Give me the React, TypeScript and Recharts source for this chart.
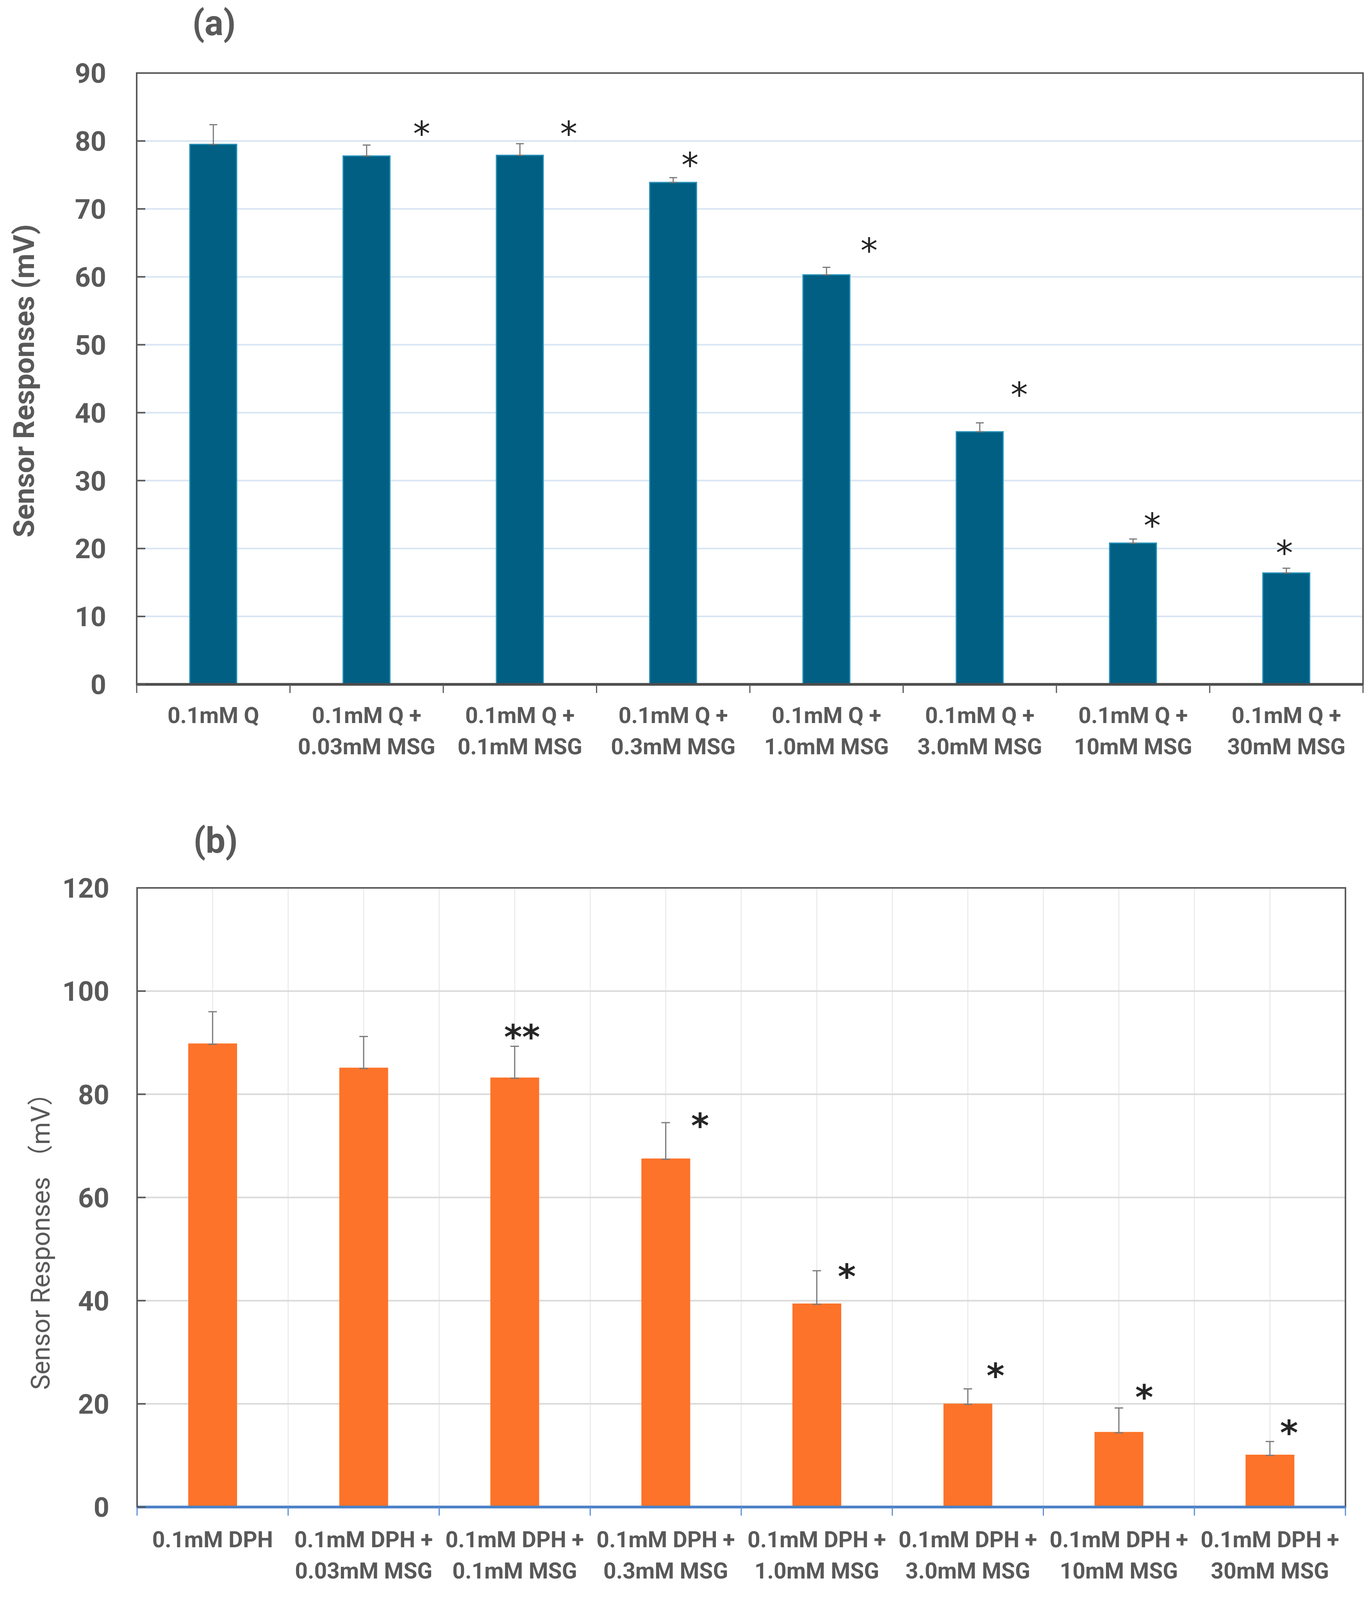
import React from "react";
import {
  Bar,
  CartesianGrid,
  ComposedChart,
  ErrorBar,
  Label,
  ReferenceArea,
  Scatter,
  XAxis,
  YAxis,
} from "recharts";

// panel (a): quinine + MSG
const categoriesA = [
  "0.1mM Q",
  "0.1mM Q +\n0.03mM MSG",
  "0.1mM Q +\n0.1mM MSG",
  "0.1mM Q +\n0.3mM MSG",
  "0.1mM Q +\n1.0mM MSG",
  "0.1mM Q +\n3.0mM MSG",
  "0.1mM Q +\n10mM MSG",
  "0.1mM Q +\n30mM MSG",
];
const valuesA = [79.5, 77.8, 77.9, 73.9, 60.3, 37.2, 20.8, 16.4];
const errorsA = [2.9, 1.6, 1.7, 0.7, 1.1, 1.3, 0.6, 0.7];
const starsA = ["", "*", "*", "*", "*", "*", "*", "*"];
const starLevelA = [null, 82.2, 82.2, 77.6, 65.0, 43.8, 24.5, 20.5];
const ticksA = [0, 10, 20, 30, 40, 50, 60, 70, 80, 90];

// panel (b): DPH + MSG
const categoriesB = [
  "0.1mM DPH",
  "0.1mM DPH +\n0.03mM MSG",
  "0.1mM DPH +\n0.1mM MSG",
  "0.1mM DPH +\n0.3mM MSG",
  "0.1mM DPH +\n1.0mM MSG",
  "0.1mM DPH +\n3.0mM MSG",
  "0.1mM DPH +\n10mM MSG",
  "0.1mM DPH +\n30mM MSG",
];
const valuesB = [89.7, 85.0, 83.1, 67.4, 39.3, 19.9, 14.4, 10.0];
const errorsB = [6.3, 6.2, 6.2, 7.1, 6.5, 3.0, 4.8, 2.7];
const starsB = ["", "", "**", "*", "*", "*", "*", "*"];
const starLevelB = [null, null, 92.6, 75.4, 46.2, 27.0, 22.8, 15.9];
const ticksB = [0, 20, 40, 60, 80, 100, 120];

// horizontal nudge of each asterisk from its bar centre (px)
const starShiftA = [0, 141, 125, 43, 109, 101, 49, -5];
const starShiftB = [0, 0, 19, 88, 77, 71, 65, 49];

const FONT = "Roboto, 'DejaVu Sans Condensed', sans-serif";
const GREY = "#595959";

const tableA = categoriesA.map((name, i) => ({
  name,
  value: valuesA[i],
  err: [0, errorsA[i]],
  star: starsA[i],
  starAt: starLevelA[i],
}));

const tableB = categoriesB.map((name, i) => ({
  name,
  value: valuesB[i],
  err: [0, errorsB[i]],
  star: starsB[i],
  starAt: starLevelB[i],
}));

function CategoryTick(props: any) {
  const { x, y, payload, index, baselines, size, step, tickColor, count } = props;
  const lines = String(payload.value).split("\n");
  const left = x - step / 2;
  const right = x + step / 2;
  return (
    <g>
      <line x1={left} x2={left} y1={y} y2={y + 22} stroke={tickColor} strokeWidth={3} />
      {index === count - 1 && (
        <line x1={right} x2={right} y1={y} y2={y + 22} stroke={tickColor} strokeWidth={3} />
      )}
      {lines.map((line: string, i: number) => (
        <text
          key={i}
          x={x}
          y={y + baselines[i]}
          textAnchor="middle"
          fill={GREY}
          fontSize={size}
          fontWeight={700}
          fontFamily={FONT}
        >
          {line}
        </text>
      ))}
    </g>
  );
}

function ValueTick(props: any) {
  const { x, y, payload, gap, size, color } = props;
  const axisX = x + gap;
  return (
    <g>
      <line x1={axisX} x2={axisX + 22} y1={y} y2={y} stroke={color} strokeWidth={4} />
      <text
        x={x}
        y={y}
        dy="0.36em"
        textAnchor="end"
        fill={GREY}
        fontSize={size}
        fontWeight={700}
        fontFamily={FONT}
      >
        {payload.value}
      </text>
    </g>
  );
}

function AxisTitle(props: any) {
  const { viewBox, text, cx, startY, size, weight } = props;
  const x = viewBox.x + cx;
  const y = startY;
  return (
    <text
      x={x}
      y={y}
      transform={`rotate(-90 ${x} ${y})`}
      dy="0.36em"
      textAnchor="start"
      fill={GREY}
      fontSize={size}
      fontWeight={weight}
      fontFamily="Roboto, 'Noto Sans CJK SC', sans-serif"
    >
      {text}
    </text>
  );
}

function makeStar(categories: string[], shifts: number[], bold: boolean) {
  return (p: any) => {
    const entry = p.payload || {};
    const i = categories.indexOf(entry.name);
    if (!entry.star || entry.starAt == null || p.cx == null || p.cy == null) return <g />;
    return (
      <text
        x={p.cx + (shifts[i] || 0)}
        y={p.cy}
        dy="0.57em"
        textAnchor="middle"
        fontSize={88}
        fontWeight={bold ? 700 : 400}
        fill="#262626"
        fontFamily="'DejaVu Sans', sans-serif"
      >
        {entry.star}
      </text>
    );
  };
}

// error bars hang off an invisible point series drawn under the bars
const hiddenPoint = () => <g />;

// vertical grid at category centres and boundaries
const halfCategoryLines = ({ offset }: any) =>
  Array.from({ length: 17 }, (_, k) => offset.left + (k * offset.width) / 16);

function PanelTitle({ text, cx, cy }: { text: string; cx: number; cy: number }) {
  return (
    <div
      style={{
        position: "absolute",
        left: cx - 150,
        top: cy - 50,
        width: 300,
        height: 100,
        lineHeight: "100px",
        textAlign: "center",
        fontSize: 90,
        fontWeight: 700,
        color: GREY,
        fontFamily: FONT,
      }}
    >
      {text}
    </div>
  );
}

export default function App() {
  return (
    <div style={{ position: "relative", width: 3513, height: 4060, background: "#fff", overflow: "hidden" }}>
      <style>{"body{margin:0;background:#fff}"}</style>

      <PanelTitle text="(a)" cx={548} cy={60} />
      <div style={{ position: "absolute", left: 0, top: 0 }}>
        <ComposedChart
          width={3513}
          height={2050}
          data={tableA}
          margin={{ top: 187, right: 23, bottom: 0, left: 0 }}
        >
          <CartesianGrid vertical={false} stroke="#d8e5f3" strokeWidth={4} />
          <ReferenceArea y1={0} y2={90} fill="none" stroke={GREY} strokeWidth={4} ifOverflow="visible" />
          <XAxis
            dataKey="name"
            interval={0}
            height={298}
            tickLine={false}
            tickSize={0}
            tickMargin={0}
            axisLine={{ stroke: "#4d4d4d", strokeWidth: 7 }}
            tick={<CategoryTick baselines={[99, 179]} size={57} step={392.5} count={8} tickColor={GREY} />}
          />
          <YAxis
            type="number"
            domain={[0, 90]}
            ticks={ticksA}
            interval={0}
            width={350}
            tickLine={false}
            tickSize={0}
            tickMargin={78}
            axisLine={{ stroke: GREY, strokeWidth: 4 }}
            tick={<ValueTick gap={78} size={70} color={GREY} />}
          >
            <Label
              content={
                <AxisTitle text="Sensor Responses (mV)" cx={60} startY={1376} size={74} weight={700} />
              }
            />
          </YAxis>
          <Scatter dataKey="value" isAnimationActive={false} shape={hiddenPoint}>
            <ErrorBar dataKey="err" direction="y" width={10} stroke="#7a7a7a" strokeWidth={3} />
          </Scatter>
          <Bar
            dataKey="value"
            fill="#015f84"
            stroke="#2a93b8"
            strokeWidth={3}
            barSize={120}
            isAnimationActive={false}
          />
          <Scatter
            dataKey="starAt"
            isAnimationActive={false}
            shape={makeStar(categoriesA, starShiftA, false)}
          />
        </ComposedChart>
      </div>

      <PanelTitle text="(b)" cx={552} cy={2153} />
      <div style={{ position: "absolute", left: 0, top: 2050 }}>
        <ComposedChart
          width={3513}
          height={2010}
          data={tableB}
          margin={{ top: 223, right: 68, bottom: 0, left: 0 }}
        >
          <CartesianGrid
            horizontal={false}
            stroke="#ececec"
            strokeWidth={3}
            verticalCoordinatesGenerator={halfCategoryLines}
          />
          <CartesianGrid vertical={false} stroke="#dadada" strokeWidth={4} />
          <ReferenceArea y1={0} y2={120} fill="none" stroke={GREY} strokeWidth={4} ifOverflow="visible" />
          <XAxis
            dataKey="name"
            interval={0}
            height={202}
            tickLine={false}
            tickSize={0}
            tickMargin={0}
            axisLine={{ stroke: "#4a80c6", strokeWidth: 7 }}
            tick={<CategoryTick baselines={[103, 183]} size={57} step={386.75} count={8} tickColor="#5b8fd6" />}
          />
          <YAxis
            type="number"
            domain={[0, 120]}
            ticks={ticksB}
            interval={0}
            width={351}
            tickLine={false}
            tickSize={0}
            tickMargin={71}
            axisLine={{ stroke: GREY, strokeWidth: 4 }}
            tick={<ValueTick gap={71} size={70} color={GREY} />}
          >
            <Label
              content={
                <AxisTitle text="Sensor Responses （mV）" cx={103} startY={1508} size={66} weight={400} />
              }
            />
          </YAxis>
          <Scatter dataKey="value" isAnimationActive={false} shape={hiddenPoint}>
            <ErrorBar dataKey="err" direction="y" width={11} stroke="#7a7a7a" strokeWidth={3} />
          </Scatter>
          <Bar
            dataKey="value"
            fill="#fd7329"
            stroke="#fd7329"
            strokeWidth={4}
            barSize={121}
            isAnimationActive={false}
          />
          <Scatter
            dataKey="starAt"
            isAnimationActive={false}
            shape={makeStar(categoriesB, starShiftB, true)}
          />
        </ComposedChart>
      </div>
    </div>
  );
}
